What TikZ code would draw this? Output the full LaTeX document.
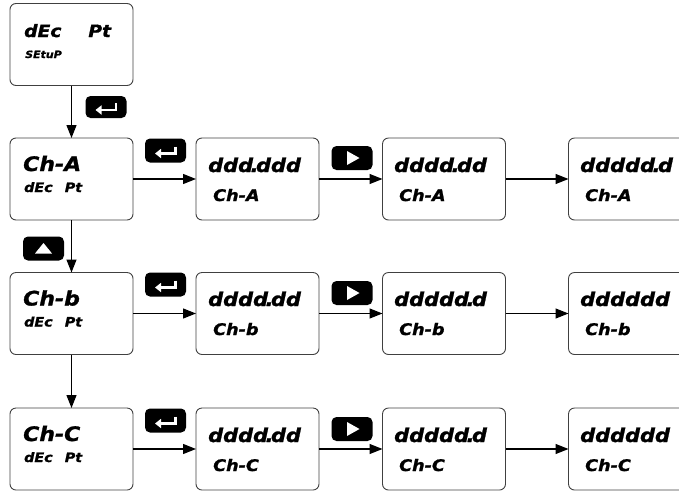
\documentclass[tikz,border=0pt]{standalone}
\usepackage{fontspec}
\newfontfamily\segfont{DejaVu Sans}[BoldItalicFeatures={FakeBold=1.2,FakeStretch=1.1}]
\usetikzlibrary{arrows.meta}
\begin{document}
\begin{tikzpicture}[x=1pt,y=-1pt,
  scr/.style={draw=black!75, line width=0.9pt, rounded corners=6pt, minimum width=123pt, minimum height=82pt, inner sep=0pt, outer sep=0pt},
  arr/.style={line width=1.3pt, -{Triangle[length=13pt,width=10pt]}},
  keybox/.style={fill=black, rounded corners=5pt, minimum width=41pt, minimum height=24pt, inner sep=0pt},
  segtxt/.style={anchor=base west, inner sep=0pt},
  big/.style={segtxt, font=\segfont\fontsize{20}{20}\selectfont\bfseries\itshape},
  hdr/.style={segtxt, font=\segfont\fontsize{17}{17}\selectfont\bfseries\itshape},
  val/.style={segtxt, font=\segfont\fontsize{19}{19}\selectfont\bfseries\itshape},
  sub/.style={segtxt, font=\segfont\fontsize{16}{16}\selectfont\bfseries\itshape},
  lbl/.style={segtxt, font=\segfont\fontsize{13}{13}\selectfont\bfseries\itshape},
  tiny/.style={segtxt, font=\segfont\fontsize{10}{10}\selectfont\bfseries\itshape},
  enterglyph/.style={white, line width=2.4pt, -{Triangle[length=6pt,width=9pt]}}
]
\path[use as bounding box, clip] (0,0) rectangle (679,491);

% screens
\node[scr] (s0) at (71.5,44.5) {};
\node[scr] (a0) at (71.5,179) {};
\node[scr] (a1) at (257.5,179) {};
\node[scr] (a2) at (444,179) {};
\node[scr] (a3) at (630,179) {};
\node[scr] (b0) at (71.5,313.5) {};
\node[scr] (b1) at (257.5,313.5) {};
\node[scr] (b2) at (444,313.5) {};
\node[scr] (b3) at (630,313.5) {};
\node[scr] (c0) at (71.5,449) {};
\node[scr] (c1) at (257.5,449) {};
\node[scr] (c2) at (444,449) {};
\node[scr] (c3) at (630,449) {};

% texts
\node[hdr] (s0t) at (24,37) {dEc\ \hspace{1.2em}Pt};
\node[tiny] (s0s) at (25,58) {SEtuP};

\node[big] (a0t) at (23,171) {Ch-A};
\node[lbl] (a0s) at (24,192) {dEc\ \hspace{0.55em}Pt};
\node[big] (b0t) at (23,305.5) {Ch-b};
\node[lbl] (b0s) at (24,326.5) {dEc\ \hspace{0.55em}Pt};
\node[big] (c0t) at (23,441) {Ch-C};
\node[lbl] (c0s) at (24,462) {dEc\ \hspace{0.55em}Pt};

\node[val] (a1t) at (208,172) {ddd\kern-2.5pt.\kern-2.5pt ddd};
\node[sub] (a1s) at (213,201) {Ch-A};
\node[val] (a2t) at (394,172) {dddd\kern-2.5pt.\kern-2.5pt dd};
\node[sub] (a2s) at (399,201) {Ch-A};
\node[val] (a3t) at (580,172) {ddddd\kern-2.5pt.\kern-2.5pt d};
\node[sub] (a3s) at (585,201) {Ch-A};

\node[val] (b1t) at (208,306) {dddd\kern-2.5pt.\kern-2.5pt dd};
\node[sub] (b1s) at (213,335) {Ch-b};
\node[val] (b2t) at (394,306) {ddddd\kern-2.5pt.\kern-2.5pt d};
\node[sub] (b2s) at (399,335) {Ch-b};
\node[val] (b3t) at (580,306) {dddddd};
\node[sub] (b3s) at (585,335) {Ch-b};

\node[val] (c1t) at (208,442) {dddd\kern-2.5pt.\kern-2.5pt dd};
\node[sub] (c1s) at (213,471) {Ch-C};
\node[val] (c2t) at (394,442) {ddddd\kern-2.5pt.\kern-2.5pt d};
\node[sub] (c2s) at (399,471) {Ch-C};
\node[val] (c3t) at (580,442) {dddddd};
\node[sub] (c3s) at (585,471) {Ch-C};

% connectors
\draw[arr] (s0) -- (a0);
\draw[arr] (a0) -- (b0);
\draw[arr] (b0) -- (c0);
\draw[arr] (a0) -- (a1);
\draw[arr] (a1) -- (a2);
\draw[arr] (a2) -- (a3);
\draw[arr] (b0) -- (b1);
\draw[arr] (b1) -- (b2);
\draw[arr] (b2) -- (b3);
\draw[arr] (c0) -- (c1);
\draw[arr] (c1) -- (c2);
\draw[arr] (c2) -- (c3);

% keys
\node[keybox, minimum height=22pt] (k0) at (106,107) {};
\node[keybox] (ka) at (165.5,150.5) {};
\node[keybox] (kb) at (165.5,284.5) {};
\node[keybox] (kc) at (165.5,420.5) {};
\node[keybox] (pa) at (352,158) {};
\node[keybox] (pb) at (352,293) {};
\node[keybox] (pc) at (352,429) {};
\node[keybox] (up) at (43.5,248.5) {};

% enter glyphs
\foreach \k in {k0,ka,kb,kc}{
  \draw[enterglyph] ([shift={(10pt,4pt)}]\k.center) |- ([shift={(-10.5pt,-3pt)}]\k.center);
}
% play glyphs
\foreach \k in {pa,pb,pc}{
  \fill[white] ([shift={(-5pt,7pt)}]\k.center) -- ([shift={(7.5pt,0pt)}]\k.center) -- ([shift={(-5pt,-7pt)}]\k.center) -- cycle;
}
% up glyph
\fill[white] ([shift={(-8.5pt,-5pt)}]up.center) -- ([shift={(0pt,5.5pt)}]up.center) -- ([shift={(8.5pt,-5pt)}]up.center) -- cycle;
\end{tikzpicture}
\end{document}
